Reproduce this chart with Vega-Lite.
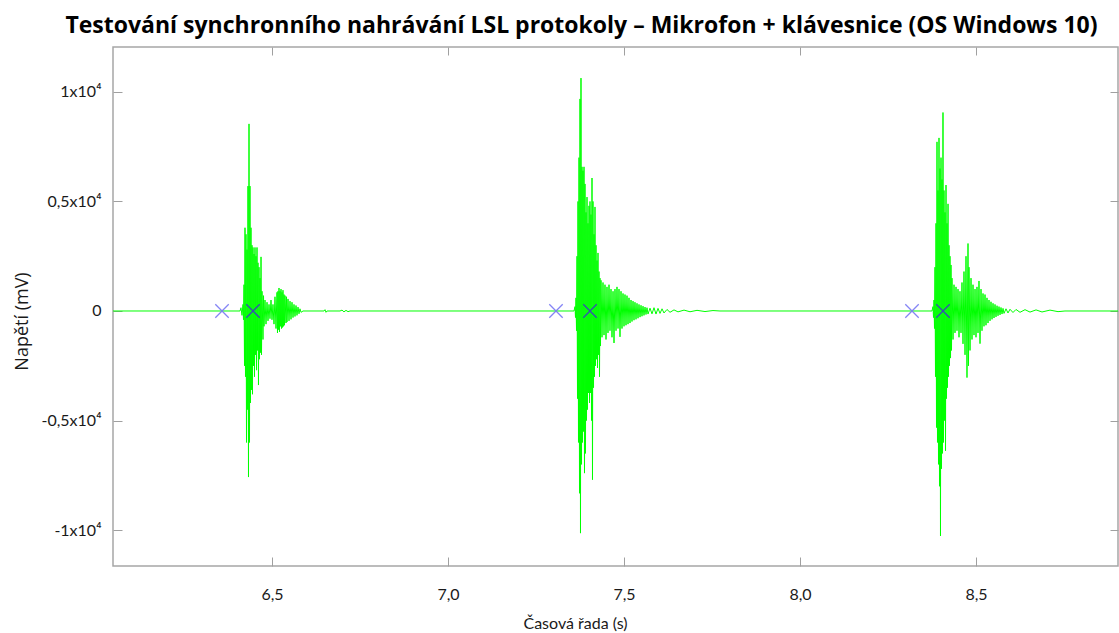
{
  "$schema": "https://vega.github.io/schema/vega-lite/v6.json",
  "width": 1005,
  "height": 519,
  "autosize": {"type": "none"},
  "padding": {"left": 113, "top": 47, "right": 1, "bottom": 67},
  "title": {
    "text": "Testování synchronního nahrávání LSL protokoly – Mikrofon + klávesnice (OS Windows 10)",
    "font": "Open Sans", "fontSize": 23, "fontWeight": "bold", "color": "#000000",
    "anchor": "middle", "dx": -34, "offset": 9
  },
  "config": {
    "view": {"stroke": "#a6a6a6", "strokeWidth": 1.5},
    "axis": {
      "grid": false, "domain": false, "tickColor": "#a0a0a0", "tickWidth": 1,
      "labelFont": "Lato", "labelFontSize": 16, "labelColor": "#1a1a1a",
      "titleFont": "Lato", "titleFontSize": 16, "titleFontWeight": "normal", "titleColor": "#1a1a1a"
    }
  },
  "datasets": {
    "sig": [
      {"t": 6.0483, "v": 0}, {"t": 6.4091, "v": 0}, {"t": 6.4119, "v": 150}, {"t": 6.4148, "v": -200},
      {"t": 6.4176, "v": 300}, {"t": 6.4190, "v": -400}, {"t": 6.4205, "v": 1200}, {"t": 6.4219, "v": -2500},
      {"t": 6.4233, "v": 3800}, {"t": 6.4247, "v": -3000}, {"t": 6.4261, "v": 3500}, {"t": 6.4276, "v": -6000},
      {"t": 6.4290, "v": 2800}, {"t": 6.4304, "v": -4500}, {"t": 6.4318, "v": 5700}, {"t": 6.4332, "v": -7580},
      {"t": 6.4347, "v": 8540}, {"t": 6.4361, "v": -6000}, {"t": 6.4375, "v": 5700}, {"t": 6.4389, "v": -4200},
      {"t": 6.4403, "v": 3800}, {"t": 6.4418, "v": -3600}, {"t": 6.4432, "v": 3000}, {"t": 6.4446, "v": -3800},
      {"t": 6.4460, "v": 2900}, {"t": 6.4474, "v": -2500}, {"t": 6.4489, "v": 2600}, {"t": 6.4503, "v": -3000},
      {"t": 6.4517, "v": 2900}, {"t": 6.4531, "v": -2000}, {"t": 6.4545, "v": 2500}, {"t": 6.4560, "v": -2700},
      {"t": 6.4574, "v": 2900}, {"t": 6.4588, "v": -1800}, {"t": 6.4602, "v": 2200}, {"t": 6.4616, "v": -3380},
      {"t": 6.4631, "v": 2000}, {"t": 6.4645, "v": -2200}, {"t": 6.4659, "v": 1500}, {"t": 6.4673, "v": -1900},
      {"t": 6.4688, "v": 2470}, {"t": 6.4702, "v": -2000}, {"t": 6.4716, "v": 900}, {"t": 6.4744, "v": -1300},
      {"t": 6.4759, "v": 700}, {"t": 6.4773, "v": -700}, {"t": 6.4801, "v": 500}, {"t": 6.4830, "v": -600},
      {"t": 6.4858, "v": 400}, {"t": 6.4886, "v": -450}, {"t": 6.4915, "v": 300}, {"t": 6.4943, "v": -350},
      {"t": 6.4972, "v": 500}, {"t": 6.5000, "v": -400}, {"t": 6.5028, "v": 300}, {"t": 6.5057, "v": -600},
      {"t": 6.5085, "v": 650}, {"t": 6.5114, "v": -800}, {"t": 6.5142, "v": 850}, {"t": 6.5156, "v": -1000},
      {"t": 6.5170, "v": 900}, {"t": 6.5185, "v": -850}, {"t": 6.5199, "v": 1050}, {"t": 6.5213, "v": -950},
      {"t": 6.5227, "v": 900}, {"t": 6.5241, "v": -700}, {"t": 6.5256, "v": 1000}, {"t": 6.5270, "v": -800},
      {"t": 6.5284, "v": 850}, {"t": 6.5298, "v": -750}, {"t": 6.5312, "v": 950}, {"t": 6.5327, "v": -700},
      {"t": 6.5341, "v": 750}, {"t": 6.5355, "v": -650}, {"t": 6.5369, "v": 700}, {"t": 6.5398, "v": -550},
      {"t": 6.5412, "v": 650}, {"t": 6.5426, "v": -500}, {"t": 6.5455, "v": 550}, {"t": 6.5483, "v": -450},
      {"t": 6.5511, "v": 450}, {"t": 6.5540, "v": -380}, {"t": 6.5568, "v": 400}, {"t": 6.5597, "v": -300},
      {"t": 6.5625, "v": 300}, {"t": 6.5653, "v": -250}, {"t": 6.5682, "v": 250}, {"t": 6.5710, "v": -200},
      {"t": 6.5739, "v": 180}, {"t": 6.5767, "v": -130}, {"t": 6.5795, "v": 100}, {"t": 6.5824, "v": -60},
      {"t": 6.5881, "v": 0}, {"t": 6.6477, "v": 0}, {"t": 6.6506, "v": 60}, {"t": 6.6534, "v": -60},
      {"t": 6.6563, "v": 0}, {"t": 6.6932, "v": 0}, {"t": 6.6989, "v": 40}, {"t": 6.7045, "v": -40},
      {"t": 6.7102, "v": 30}, {"t": 6.7159, "v": -30}, {"t": 6.7216, "v": 0},

      {"t": 7.3580, "v": 0}, {"t": 7.3608, "v": 200}, {"t": 7.3622, "v": -300}, {"t": 7.3636, "v": 600},
      {"t": 7.3651, "v": -900}, {"t": 7.3665, "v": 2500}, {"t": 7.3679, "v": -4000}, {"t": 7.3693, "v": 5000},
      {"t": 7.3707, "v": -6000}, {"t": 7.3722, "v": 7000}, {"t": 7.3736, "v": -8320}, {"t": 7.3750, "v": 9680},
      {"t": 7.3764, "v": -10140}, {"t": 7.3778, "v": 10630}, {"t": 7.3793, "v": -7000}, {"t": 7.3807, "v": 6580},
      {"t": 7.3821, "v": -6000}, {"t": 7.3835, "v": 6400}, {"t": 7.3849, "v": -5500}, {"t": 7.3864, "v": 6580},
      {"t": 7.3878, "v": -7400}, {"t": 7.3892, "v": 5800}, {"t": 7.3906, "v": -6500}, {"t": 7.3920, "v": 4500},
      {"t": 7.3935, "v": -5000}, {"t": 7.3949, "v": 5200}, {"t": 7.3963, "v": -4500}, {"t": 7.3977, "v": 4000},
      {"t": 7.3991, "v": -3740}, {"t": 7.4006, "v": 4800}, {"t": 7.4020, "v": -4200}, {"t": 7.4034, "v": 5000},
      {"t": 7.4048, "v": -3740}, {"t": 7.4062, "v": 4400}, {"t": 7.4077, "v": -5000}, {"t": 7.4091, "v": 6070},
      {"t": 7.4105, "v": -7700}, {"t": 7.4119, "v": 5000}, {"t": 7.4134, "v": -3500}, {"t": 7.4148, "v": 3500},
      {"t": 7.4162, "v": -3000}, {"t": 7.4176, "v": 4750}, {"t": 7.4190, "v": -2500}, {"t": 7.4205, "v": 3000},
      {"t": 7.4219, "v": -2200}, {"t": 7.4233, "v": 2300}, {"t": 7.4247, "v": -2600}, {"t": 7.4261, "v": 2650},
      {"t": 7.4276, "v": -2000}, {"t": 7.4290, "v": 1800}, {"t": 7.4304, "v": -3000}, {"t": 7.4318, "v": 1500},
      {"t": 7.4332, "v": -1600}, {"t": 7.4347, "v": 1400}, {"t": 7.4375, "v": -1200}, {"t": 7.4403, "v": 1300},
      {"t": 7.4432, "v": -1100}, {"t": 7.4460, "v": 1200}, {"t": 7.4489, "v": -1300}, {"t": 7.4517, "v": 1100},
      {"t": 7.4545, "v": -1000}, {"t": 7.4574, "v": 1200}, {"t": 7.4602, "v": -900}, {"t": 7.4631, "v": 1000},
      {"t": 7.4659, "v": -1200}, {"t": 7.4688, "v": 900}, {"t": 7.4716, "v": -1460}, {"t": 7.4744, "v": 1000},
      {"t": 7.4773, "v": -900}, {"t": 7.4801, "v": 1100}, {"t": 7.4830, "v": -800}, {"t": 7.4858, "v": 1000},
      {"t": 7.4886, "v": -1180}, {"t": 7.4915, "v": 900}, {"t": 7.4943, "v": -800}, {"t": 7.4972, "v": 800},
      {"t": 7.5000, "v": -700}, {"t": 7.5028, "v": 750}, {"t": 7.5057, "v": -650}, {"t": 7.5085, "v": 700},
      {"t": 7.5114, "v": -600}, {"t": 7.5142, "v": 600}, {"t": 7.5170, "v": -550}, {"t": 7.5199, "v": 500},
      {"t": 7.5227, "v": -480}, {"t": 7.5256, "v": 450}, {"t": 7.5284, "v": -420}, {"t": 7.5312, "v": 400},
      {"t": 7.5341, "v": -380}, {"t": 7.5369, "v": 350}, {"t": 7.5398, "v": -330}, {"t": 7.5426, "v": 300},
      {"t": 7.5455, "v": -280}, {"t": 7.5483, "v": 260}, {"t": 7.5511, "v": -240}, {"t": 7.5540, "v": 220},
      {"t": 7.5568, "v": -200}, {"t": 7.5597, "v": 180}, {"t": 7.5625, "v": -160}, {"t": 7.5653, "v": 150},
      {"t": 7.5682, "v": -140}, {"t": 7.5739, "v": 130}, {"t": 7.5795, "v": -130}, {"t": 7.5852, "v": 150},
      {"t": 7.5909, "v": -140}, {"t": 7.5966, "v": 120}, {"t": 7.6023, "v": -110}, {"t": 7.6080, "v": 100},
      {"t": 7.6136, "v": -90}, {"t": 7.6222, "v": 70}, {"t": 7.6307, "v": -60}, {"t": 7.6420, "v": 50},
      {"t": 7.6534, "v": -40}, {"t": 7.6705, "v": 40}, {"t": 7.6875, "v": -35}, {"t": 7.7074, "v": 30},
      {"t": 7.7301, "v": -25}, {"t": 7.7528, "v": 20}, {"t": 7.7727, "v": 0},

      {"t": 8.3750, "v": 0}, {"t": 8.3778, "v": 200}, {"t": 8.3793, "v": -300}, {"t": 8.3807, "v": 500},
      {"t": 8.3821, "v": -800}, {"t": 8.3835, "v": 2000}, {"t": 8.3849, "v": -3000}, {"t": 8.3864, "v": 4000},
      {"t": 8.3878, "v": -5320}, {"t": 8.3892, "v": 7720}, {"t": 8.3906, "v": -6000}, {"t": 8.3920, "v": 5500},
      {"t": 8.3935, "v": -7000}, {"t": 8.3949, "v": 7900}, {"t": 8.3963, "v": -8000}, {"t": 8.3977, "v": 6500},
      {"t": 8.3991, "v": -10270}, {"t": 8.4006, "v": 7000}, {"t": 8.4020, "v": -7200}, {"t": 8.4034, "v": 6000},
      {"t": 8.4048, "v": -6500}, {"t": 8.4062, "v": 9060}, {"t": 8.4077, "v": -6000}, {"t": 8.4091, "v": 5500},
      {"t": 8.4105, "v": -5000}, {"t": 8.4119, "v": 4500}, {"t": 8.4134, "v": -6380}, {"t": 8.4148, "v": 5750},
      {"t": 8.4162, "v": -4000}, {"t": 8.4176, "v": 4000}, {"t": 8.4190, "v": -3500}, {"t": 8.4205, "v": 4890},
      {"t": 8.4219, "v": -3000}, {"t": 8.4233, "v": 3000}, {"t": 8.4247, "v": -2500}, {"t": 8.4261, "v": 2500},
      {"t": 8.4276, "v": -2150}, {"t": 8.4290, "v": 2100}, {"t": 8.4304, "v": -1800}, {"t": 8.4318, "v": 1500},
      {"t": 8.4347, "v": -1300}, {"t": 8.4375, "v": 1200}, {"t": 8.4403, "v": -1000}, {"t": 8.4432, "v": 1100},
      {"t": 8.4460, "v": -900}, {"t": 8.4489, "v": 1000}, {"t": 8.4517, "v": -1200}, {"t": 8.4545, "v": 900},
      {"t": 8.4574, "v": -1000}, {"t": 8.4602, "v": 1300}, {"t": 8.4631, "v": -1500}, {"t": 8.4659, "v": 1800},
      {"t": 8.4688, "v": -2000}, {"t": 8.4716, "v": 2500}, {"t": 8.4744, "v": -3040}, {"t": 8.4773, "v": 3080},
      {"t": 8.4787, "v": -2500}, {"t": 8.4801, "v": 2000}, {"t": 8.4830, "v": -1800}, {"t": 8.4858, "v": 1500},
      {"t": 8.4886, "v": -1300}, {"t": 8.4915, "v": 1200}, {"t": 8.4943, "v": -1100}, {"t": 8.4972, "v": 1000},
      {"t": 8.5000, "v": -1200}, {"t": 8.5028, "v": 1100}, {"t": 8.5057, "v": -1000}, {"t": 8.5085, "v": 1370},
      {"t": 8.5114, "v": -1490}, {"t": 8.5142, "v": 1000}, {"t": 8.5170, "v": -900}, {"t": 8.5199, "v": 800},
      {"t": 8.5227, "v": -700}, {"t": 8.5256, "v": 750}, {"t": 8.5284, "v": -650}, {"t": 8.5312, "v": 600},
      {"t": 8.5341, "v": -550}, {"t": 8.5369, "v": 500}, {"t": 8.5398, "v": -450}, {"t": 8.5426, "v": 420},
      {"t": 8.5455, "v": -380}, {"t": 8.5483, "v": 350}, {"t": 8.5511, "v": -320}, {"t": 8.5540, "v": 300},
      {"t": 8.5568, "v": -270}, {"t": 8.5597, "v": 240}, {"t": 8.5625, "v": -220}, {"t": 8.5653, "v": 200},
      {"t": 8.5682, "v": -180}, {"t": 8.5710, "v": 160}, {"t": 8.5739, "v": -140}, {"t": 8.5767, "v": 120},
      {"t": 8.5795, "v": -110}, {"t": 8.5852, "v": 100}, {"t": 8.5909, "v": -90}, {"t": 8.5966, "v": 80},
      {"t": 8.6051, "v": -70}, {"t": 8.6136, "v": 70}, {"t": 8.6250, "v": -60}, {"t": 8.6392, "v": 60},
      {"t": 8.6534, "v": -50}, {"t": 8.6705, "v": 50}, {"t": 8.6875, "v": -45}, {"t": 8.7102, "v": 40},
      {"t": 8.7330, "v": -30}, {"t": 8.7528, "v": 0}, {"t": 8.9034, "v": 0}
    ],
    "mk": [
      {"t": 6.3580, "v": 0, "k": "a"}, {"t": 6.4460, "v": 0, "k": "b"},
      {"t": 7.3068, "v": 0, "k": "a"}, {"t": 7.4034, "v": 0, "k": "b"},
      {"t": 8.3182, "v": 0, "k": "a"}, {"t": 8.4062, "v": 0, "k": "b"}
    ]
  },
  "layer": [
    {
      "data": {"name": "sig"},
      "mark": {"type": "line", "color": "#00ff00", "strokeWidth": 1, "clip": true},
      "encoding": {
        "x": {
          "field": "t", "type": "quantitative",
          "scale": {"domain": [6.0483, 8.9034], "nice": false, "zero": false},
          "axis": {
            "orient": "bottom", "values": [6.5, 7, 7.5, 8, 8.5],
            "labelExpr": "replace(format(datum.value, '.1f'), '.', ',')",
            "tickSize": -9, "labelPadding": 29,
            "title": "Časová řada (s)", "titleFont": "Lato", "titleFontSize": 16,
            "titleX": 462, "titleY": 62, "titleBaseline": "alphabetic", "titleAlign": "center"
          }
        },
        "y": {
          "field": "v", "type": "quantitative",
          "scale": {"domain": [-11640, 12050], "nice": false, "zero": false},
          "axis": {
            "orient": "left", "values": [-10000, -5000, 0, 5000, 10000],
            "labelExpr": "datum.value == 0 ? '0' : datum.value == 10000 ? '1x10⁴' : datum.value == 5000 ? '0,5x10⁴' : datum.value == -5000 ? '-0,5x10⁴' : '-1x10⁴'",
            "tickSize": -9, "labelPadding": 21,
            "title": "Napětí (mV)", "titleFont": "Open Sans", "titleFontSize": 18,
            "titleX": -86, "titleY": 274, "titleBaseline": "alphabetic", "titleAlign": "center", "titleAngle": -90
          }
        }
      }
    },
    {
      "data": {"name": "mk"},
      "mark": {"type": "point", "shape": "M-1,-1L1,1M-1,1L1,-1", "size": 180, "strokeWidth": 1.3, "filled": false, "opacity": 0.9},
      "encoding": {
        "x": {
          "field": "t", "type": "quantitative",
          "scale": {"domain": [6.0483, 8.9034], "nice": false, "zero": false},
          "axis": {"orient": "top", "values": [6.5, 7, 7.5, 8, 8.5], "labels": false, "tickSize": -8, "title": null}
        },
        "y": {
          "field": "v", "type": "quantitative",
          "scale": {"domain": [-11640, 12050], "nice": false, "zero": false},
          "axis": {"orient": "right", "values": [-10000, -5000, 0, 5000, 10000], "labels": false, "tickSize": -8, "title": null}
        },
        "color": {
          "field": "k", "type": "nominal",
          "scale": {"domain": ["a", "b"], "range": ["#7878f5", "#3c3cc8"]},
          "legend": null
        }
      }
    }
  ],
  "resolve": {"axis": {"x": "independent", "y": "independent"}}
}
